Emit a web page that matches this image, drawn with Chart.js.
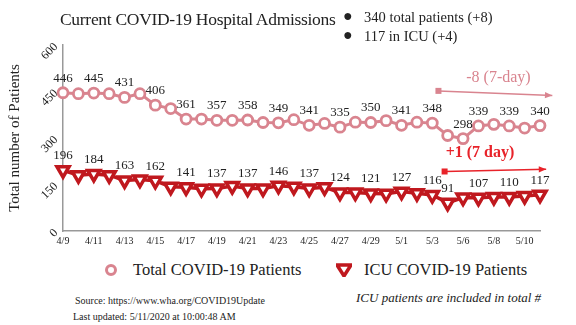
<!DOCTYPE html>
<html>
<head>
<meta charset="utf-8">
<script src="https://cdn.jsdelivr.net/npm/chart.js@4"></script>
<style>
  body { margin: 0; background: #fff; }
  #wrap { position: relative; width: 576px; height: 325px; font-family: 'Liberation Serif', serif; color: #222; }
  #wrap div { position: absolute; white-space: nowrap; }
  canvas { position: absolute; left: 0; top: 0; }
</style>
</head>
<body>
<div id="wrap">
  <canvas id="chart" width="576" height="250"></canvas>
  <div style="left:60px;top:9px;font-size:17.5px;letter-spacing:-0.3px;">Current COVID-19 Hospital Admissions</div>
  <div style="left:343px;top:7px;font-size:16px;">&#9679;</div>
  <div style="left:364px;top:9px;font-size:14.5px;">340 total patients (+8)</div>
  <div style="left:343px;top:26px;font-size:16px;">&#9679;</div>
  <div style="left:364px;top:28px;font-size:14.5px;">117 in ICU (+4)</div>

  <div style="left:104px;top:263px;"><svg width="14" height="14"><circle cx="7" cy="7" r="4.5" fill="#fff" stroke="#d9848f" stroke-width="3"/></svg></div>
  <div style="left:133px;top:260px;font-size:16.5px;">Total COVID-19 Patients</div>
  <div style="left:336px;top:263px;"><svg width="16" height="14"><polygon points="1,2 15,2 8,13" fill="#fff" stroke="#c0181e" stroke-width="3.5" stroke-linejoin="miter"/></svg></div>
  <div style="left:364px;top:260px;font-size:16.5px;">ICU COVID-19 Patients</div>

  <div style="left:356px;top:290px;font-size:13px;font-style:italic;">ICU patients are included in total #</div>
  <div style="left:75px;top:295px;font-size:10px;">Source: https://www.wha.org/COVID19Update</div>
  <div style="left:73px;top:311px;font-size:10px;">Last updated: 5/11/2020 at 10:00:48 AM</div>
</div>

<script>
// Daily hospital admissions, 4/9 - 5/11 (no report for 5/5)
const dates = ['4/9','4/10','4/11','4/12','4/13','4/14','4/15','4/16','4/17','4/18','4/19','4/20',
  '4/21','4/22','4/23','4/24','4/25','4/26','4/27','4/28','4/29','4/30','5/1','5/2','5/3','5/4',
  '5/6','5/7','5/8','5/9','5/10','5/11'];
const totalPatients = [446,443,445,443,431,443,406,395,361,361,357,357,358,350,349,359,
  341,347,335,351,350,356,341,351,348,308,298,339,344,339,332,340];
const icuPatients = [196,180,184,180,163,166,162,143,141,136,137,145,137,137,146,143,
  137,141,124,124,121,120,127,122,116,91,108,107,110,110,113,117];
// which points carry a value label
const totalLabelIdx = [0,2,4,6,8,10,12,14,16,18,20,22,24,26,27,29,31];
const icuLabelIdx = [0,2,4,6,8,10,12,14,16,18,20,22,24,25,27,29,31];
const yTicks = [0,150,300,450,600];

const PINK = '#d9848f';
const RED = '#c0181e';
const FONT = "'Liberation Serif', serif";

const valueLabels = {
  id: 'valueLabels',
  afterDatasetsDraw(chart) {
    const ctx = chart.ctx;
    ctx.save();
    ctx.font = '13px ' + FONT;
    ctx.fillStyle = '#222';
    ctx.textAlign = 'center';
    ctx.textBaseline = 'bottom';
    [totalLabelIdx, icuLabelIdx].forEach((idx, d) => {
      const meta = chart.getDatasetMeta(d);
      const vals = chart.data.datasets[d].data;
      idx.forEach(i => {
        const p = meta.data[i];
        ctx.fillText(vals[i], p.x, p.y - 8);
      });
    });
    ctx.restore();
  }
};

// 7-day change arrows and notes
const changeNotes = {
  id: 'changeNotes',
  afterDraw(chart) {
    const {ctx, scales: {x, y}} = chart;
    const notes = [
      {x0: 24.4, y0: 452, x1: 31.8, y1: 437, color: PINK, text: '-8 (7-day)', tx: 28.3, ty: 494, bold: false},
      {x0: 24.8, y0: 192, x1: 31.4, y1: 199, color: '#e8232a', text: '+1 (7 day)', tx: 27.1, ty: 252, bold: true}
    ];
    ctx.save();
    notes.forEach(n => {
      const ax = x.getPixelForValue(n.x0), ay = y.getPixelForValue(n.y0);
      const bx = x.getPixelForValue(n.x1), by = y.getPixelForValue(n.y1);
      ctx.strokeStyle = n.color;
      ctx.fillStyle = n.color;
      ctx.lineWidth = 1.5;
      ctx.beginPath();
      ctx.moveTo(ax, ay);
      ctx.lineTo(bx, by);
      ctx.stroke();
      ctx.fillRect(ax - 3, ay - 3, 6, 6);
      const ang = Math.atan2(by - ay, bx - ax);
      ctx.beginPath();
      ctx.moveTo(bx, by);
      ctx.lineTo(bx - 8 * Math.cos(ang - 0.4), by - 8 * Math.sin(ang - 0.4));
      ctx.lineTo(bx - 8 * Math.cos(ang + 0.4), by - 8 * Math.sin(ang + 0.4));
      ctx.closePath();
      ctx.fill();
      ctx.font = (n.bold ? 'bold ' : '') + '16px ' + FONT;
      ctx.textAlign = 'center';
      ctx.textBaseline = 'middle';
      ctx.fillText(n.text, x.getPixelForValue(n.tx), y.getPixelForValue(n.ty));
    });
    ctx.restore();
  }
};

new Chart(document.getElementById('chart'), {
  type: 'line',
  data: {
    labels: dates,
    datasets: [
      {
        label: 'Total COVID-19 Patients',
        data: totalPatients,
        borderColor: PINK,
        borderWidth: 3,
        pointStyle: 'circle',
        pointRadius: 5,
        pointBorderWidth: 2.8,
        pointBackgroundColor: '#fff',
        pointBorderColor: PINK,
        tension: 0
      },
      {
        label: 'ICU COVID-19 Patients',
        data: icuPatients,
        borderColor: RED,
        borderWidth: 3.5,
        pointStyle: 'triangle',
        rotation: 180,
        pointRadius: 7,
        pointBorderWidth: 3.5,
        pointBackgroundColor: '#fff',
        pointBorderColor: RED,
        tension: 0
      }
    ]
  },
  options: {
    responsive: false,
    animation: false,
    layout: { padding: { top: 45, right: 36, left: 0, bottom: 3 } },
    plugins: {
      legend: { display: false },
      tooltip: { enabled: false }
    },
    scales: {
      x: {
        offset: false,
        grid: { display: false, drawTicks: false },
        border: { color: '#999', width: 1.5 },
        ticks: {
          autoSkip: false,
          maxRotation: 0,
          padding: 4,
          color: '#222',
          font: { family: FONT, size: 10 },
          callback: (v, i) => (i % 2 === 0 ? dates[i] : '')
        },
        afterFit: s => { s.height = 16; }
      },
      y: {
        min: yTicks[0],
        max: yTicks[yTicks.length - 1],
        grid: { display: false, drawTicks: false },
        border: { color: '#999', width: 1.5 },
        afterBuildTicks: s => { s.ticks = yTicks.map(v => ({ value: v })); },
        ticks: {
          minRotation: 45,
          maxRotation: 45,
          padding: 7,
          color: '#222',
          font: { family: FONT, size: 12 }
        },
        title: {
          display: true,
          text: 'Total number of Patients',
          color: '#222',
          font: { family: FONT, size: 15 },
          padding: { top: 6, bottom: 0 }
        },
        afterFit: s => { s.width = 63; }
      }
    }
  },
  plugins: [valueLabels, changeNotes]
});
</script>
</body>
</html>
